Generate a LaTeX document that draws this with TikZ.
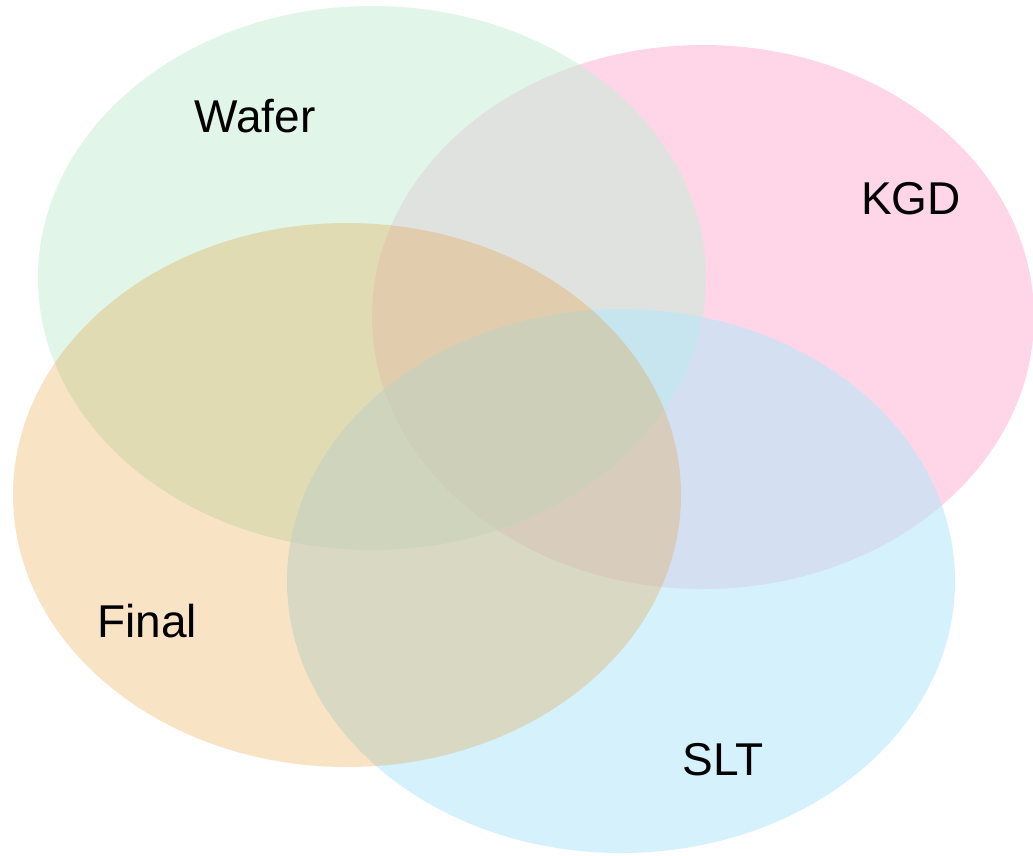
\documentclass[tikz,border=0pt]{standalone}
\usepackage{fontspec}
\setmainfont{Liberation Sans}
\usepackage{tikz}
\usetikzlibrary{shapes.geometric}
\definecolor{waferc}{RGB}{202,237,216}
\definecolor{kgdc}{RGB}{255,171,209}
\definecolor{finalc}{RGB}{228,147,32}
\definecolor{sltc}{RGB}{183,232,250}
\tikzset{
	set/.style = {ellipse, draw = none, fill opacity = 0.5, inner sep = 0pt,
		minimum width = 668pt, minimum height = 544pt},
	setname/.style = {font = \fontsize{46}{55}\selectfont, text = black}
}
\begin{document}
\begin{tikzpicture}[x = 1pt, y = -1pt]
	\useasboundingbox (0, 0) rectangle (1033, 855);

	\node[set, fill = kgdc, minimum width = 662pt] (kgd) at (703, 317) {};
	\node[set, fill = waferc, fill opacity = 0.57] (wafer) at (372, 278) {};
	\node[set, fill = sltc, fill opacity = 0.6] (slt) at (621, 581) {};
	\node[set, fill = finalc, fill opacity = 0.26] (final) at (347, 495) {};

	\node[setname] (wafername) at (255, 116) {Wafer};
	\node[setname] (kgdname) at (911, 199) {KGD};
	\node[setname] (finalname) at (147, 621) {Final};
	\node[setname] (sltname) at (723, 760) {SLT};
\end{tikzpicture}
\end{document}
